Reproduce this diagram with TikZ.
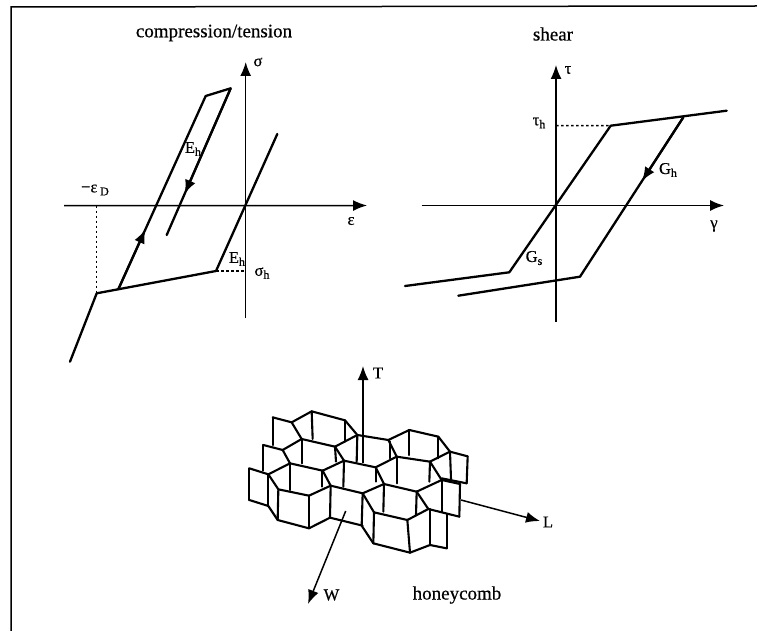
\documentclass[tikz,border=0pt]{standalone}
\usepackage{fontspec}
\setmainfont{Liberation Serif}
\newfontfamily\heavyfont{Liberation Serif}[FakeBold=0.5]
\usetikzlibrary{arrows.meta,calc}
\newcommand{\lowtxt}[1]{\raisebox{-3pt}{\fontsize{12}{12}\selectfont #1}}
\tikzset{
  curve/.style={line width=2.3pt,line join=round,line cap=round},
  axis/.style={line width=1.5pt},
  axisarrow/.style={axis,-{Latex[length=14pt,width=11pt]}},
  guide/.style={line width=1.5pt,dash pattern=on 2.5pt off 2.5pt},
  midtip/.style={-{Latex[length=14pt,width=11pt]},line width=2.2pt},
  lab/.style={inner sep=0pt,font=\heavyfont\fontsize{16.5}{17}\selectfont},
  title/.style={inner sep=0pt,font=\heavyfont\fontsize{19}{20}\selectfont},
  cell/.style={line width=2.1pt,line join=round,line cap=round},
}
\begin{document}
\begin{tikzpicture}[x=1pt,y=-1pt]
\useasboundingbox (0,0) rectangle (757,631);
% frame
\coordinate (fa) at (11,631); \coordinate (fb) at (11,7); \coordinate (fc) at (757,6);
\draw[line width=1.5pt] (fa) -- (fb) -- (fc);
% titles
\node[title] (t1) at (214,33) {compression/tension};
\node[title] (t2) at (553,34) {shear};
\node[title] (t3) at (457,595) {honeycomb};
% left plot
\coordinate (sb) at (245.7,318); \coordinate (st) at (245.7,62);
\coordinate (el) at (64,205.7); \coordinate (er) at (367,205.5);
\draw[axisarrow] (sb) -- (st);
\draw[axisarrow] (el) -- (er);
\coordinate (a0) at (70,361.7); \coordinate (a1) at (96.7,293.3); \coordinate (a2) at (216,271); \coordinate (a3) at (277.3,134);
\draw[curve] (a0) -- (a1) -- (a2) -- (a3);
\coordinate (b0) at (118.3,289.3); \coordinate (b1) at (205.7,96); \coordinate (b2) at (230.7,88.3); \coordinate (b3) at (166.7,235);
\draw[curve] (b0) -- (b1) -- (b2) -- (b3);
\coordinate (dd1) at (96.7,205.7); \coordinate (dd2) at (245.7,271);
\draw[guide] (dd1) -- (a1);
\draw[guide] (a2) -- (dd2);
\draw[midtip] (b0) -- ($(b0)!0.31!(b1)$);
\draw[midtip] (b2) -- ($(b2)!0.72!(b3)$);
\node[lab] (s) at (258,62) {σ};
\node[lab] (e) at (351,221) {ε};
\node[lab] (ed) at (95,190) {−ε\,\lowtxt{D}};
\node[lab] (eh1) at (193,149) {E\lowtxt{h}};
\node[lab] (eh2) at (237,259) {E\lowtxt{h}};
\node[lab] (sh) at (262,273) {σ\lowtxt{h}};
% right plot
\coordinate (tb) at (556,321.7); \coordinate (tt) at (556,65);
\coordinate (gl) at (421.7,205.5); \coordinate (gr) at (724,205.5);
\draw[axisarrow] (tb) -- (tt);
\draw[axisarrow] (gl) -- (gr);
\coordinate (c0) at (405,286); \coordinate (c1) at (509.3,272.3); \coordinate (c2) at (610.7,125.7); \coordinate (c3) at (726.7,110.7);
\draw[curve] (c0) -- (c1) -- (c2) -- (c3);
\coordinate (d0) at (458.3,295.7); \coordinate (d1) at (580,276.7); \coordinate (d2) at (683.3,117.3);
\draw[curve] (d0) -- (d1) -- (d2);
\coordinate (tg) at (556,125.5);
\draw[guide] (tg) -- (c2);
\draw[midtip] (d2) -- ($(d2)!0.40!(d1)$);
\node[lab] (ta) at (568,70) {τ};
\node[lab] (ga) at (714,226) {γ};
\node[lab] (th) at (539,123) {τ\lowtxt{h}};
\node[lab] (gh) at (668,170) {G\lowtxt{h}};
\node[lab] (gs) at (534,258) {G\lowtxt{s}};
% T axis behind the cells
\coordinate (T0) at (363,463); \coordinate (T1) at (363,366);
\draw[axisarrow] (T0) -- (T1);
\node[lab] (Tl) at (378,373) {T};
% honeycomb (coordinates of the 3x crop)
\begin{scope}[shift={(200,340)},scale=1/3]
\foreach \a/\b/\c/\d in {
218/232/218/315, 218/232/275/247, 275/247/335/214, 335/214/338/297, 335/214/435/241,
435/241/435/305, 435/241/472/285, 275/247/305/297, 305/297/405/320, 248/330/305/297,
305/297/305/370, 405/320/472/285, 472/285/470/365, 405/320/408/365, 405/320/432/362,
190/315/248/330, 190/315/190/392, 248/330/270/370, 270/370/368/392, 205/403/270/370,
270/370/270/450, 368/392/432/362, 432/362/430/440, 368/392/392/437, 365/392/365/440,
148/385/205/403, 148/385/148/480, 148/480/205/498, 205/403/205/498, 205/403/235/448,
235/448/327/467, 327/467/392/437, 392/437/488/460, 327/467/327/562, 235/448/233/540,
205/498/233/540, 233/540/327/565, 327/565/390/533, 392/437/390/533, 390/533/488/557,
488/460/485/557, 488/460/522/517, 488/460/552/432, 485/557/520/610, 432/362/527/382,
527/382/590/350, 527/382/552/432, 552/432/650/455, 527/382/527/425, 472/285/565/300,
565/300/590/350, 590/350/690/365, 565/300/628/270, 628/270/628/345, 628/270/715/290,
715/290/715/355, 715/290/750/335, 750/335/690/365, 690/365/725/420, 690/365/688/425,
590/350/590/430, 570/305/570/355, 750/335/753/417, 750/335/803/349, 803/349/800/430,
800/430/725/415, 725/420/780/432, 780/432/778/530, 725/420/725/515, 650/455/725/420,
650/455/685/507, 685/507/778/530, 650/455/648/525, 552/432/550/515, 522/517/622/540,
622/540/685/507, 522/517/520/610, 520/610/630/638, 622/540/630/638, 630/638/690/615,
690/507/690/615, 690/615/740/625, 740/522/740/625
}{\draw[cell] (\a,\b) -- (\c,\d);}
\end{scope}
% L and W axes
\coordinate (L0) at (461,500); \coordinate (L1) at (540,521);
\draw[axisarrow] (L0) -- (L1);
\node[lab] (Ll) at (548,522) {L};
\coordinate (W0) at (345.7,511); \coordinate (W1) at (308,604);
\draw[axisarrow] (W0) -- (W1);
\node[lab] (Wl) at (331.5,595) {W};
\end{tikzpicture}
\end{document}
